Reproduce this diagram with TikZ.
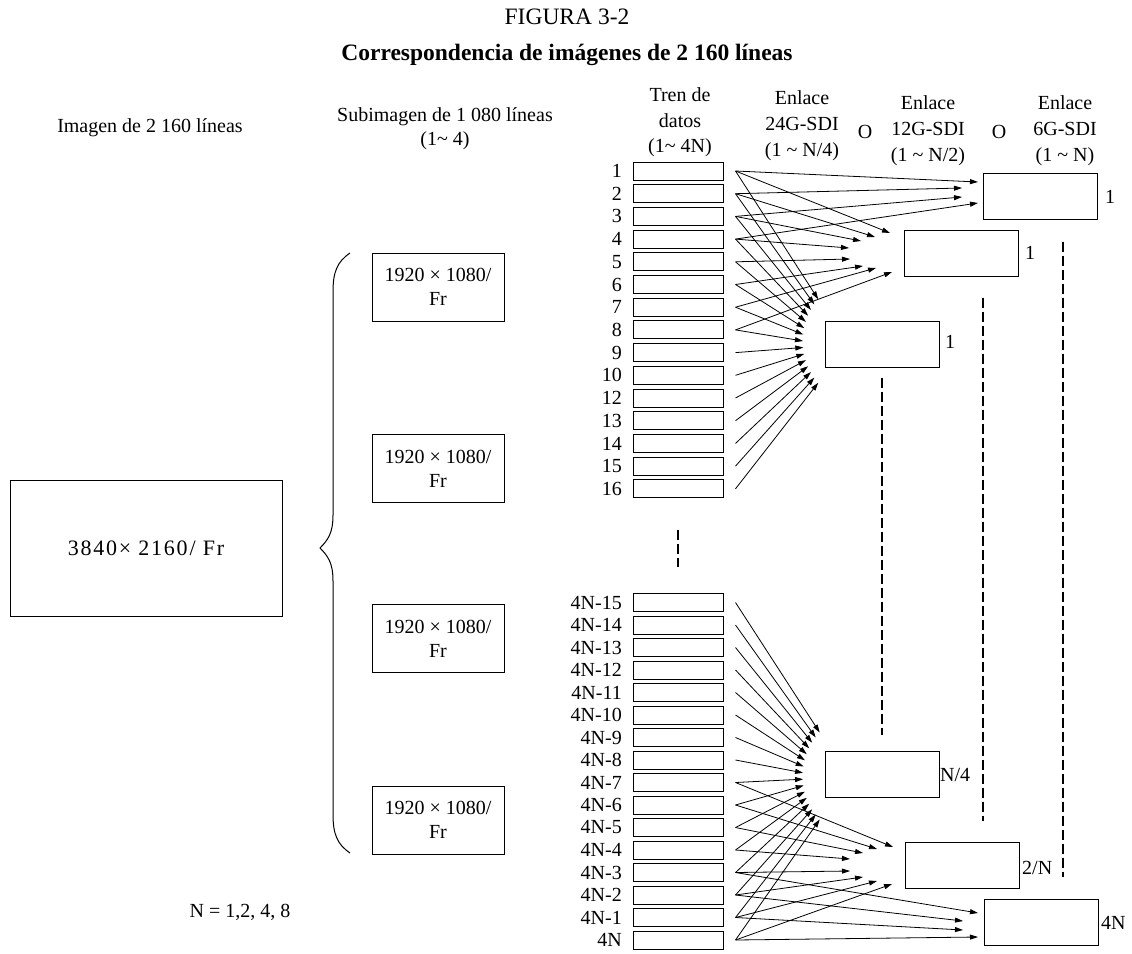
\documentclass[tikz,border=0pt]{standalone}
\usepackage{fontspec}
\setmainfont{Liberation Serif}
\usetikzlibrary{arrows.meta}
\begin{document}
\begin{tikzpicture}[x=1pt,y=-1pt,
  txt/.style={font=\fontsize{20}{25}\selectfont, inner sep=0pt},
  hdr/.style={font=\fontsize{20}{26}\selectfont, inner sep=0pt, align=center},
  streambox/.style={draw, line width=1pt, minimum width=90pt, minimum height=18pt, inner sep=0pt},
  linkbox/.style={draw, line width=1pt, minimum width=114pt, minimum height=46pt, inner sep=0pt},
  subbox/.style={draw, line width=1pt, minimum width=132pt, minimum height=68pt, inner sep=0pt, align=center, font=\fontsize{20}{24}\selectfont},
  bigbox/.style={draw, line width=1pt, minimum width=272pt, minimum height=136pt, inner sep=0pt, font=\fontsize{22}{26}\selectfont\addfontfeature{LetterSpace=8}},
  arr/.style={-{Triangle[length=8pt,width=5pt]}, line width=0.8pt},
  dsh/.style={line width=2pt, dash pattern=on 10pt off 4pt}]
\useasboundingbox (0,0) rectangle (1132,953);

% titles
\node[font=\fontsize{23.5}{28}\selectfont, inner sep=0pt] (fig) at (567,17) {FIGURA 3-2};
\node[font=\fontsize{23.5}{28}\selectfont\bfseries, inner sep=0pt] (tit) at (567,55) {Correspondencia de imágenes de 2 160 líneas};

% column headers
\node[txt] (himg) at (150,128) {Imagen de 2 160 líneas};
\node[hdr, font=\fontsize{20}{24}\selectfont] (hsub) at (445,129) {Subimagen de 1 080 líneas\\(1\textasciitilde\ 4)};
\node[hdr, font=\fontsize{20}{25.5}\selectfont] (htren) at (680,122.5) {Tren de\\datos\\(1\textasciitilde\ 4N)};
\node[hdr] (h24) at (802,125.5) {Enlace\\24G-SDI\\(1 \textasciitilde\ N/4)};
\node[txt] (o1) at (865,132) {O};
\node[hdr] (h12) at (928,131) {Enlace\\12G-SDI\\(1 \textasciitilde\ N/2)};
\node[txt] (o2) at (999,132) {O};
\node[hdr] (h6) at (1065,131) {Enlace\\6G-SDI\\(1 \textasciitilde\ N)};

% left side
\node[bigbox] (big) at (146,548) {3840× 2160/ Fr};
\node[subbox] (s1) at (438,287) {1920 × 1080/\\Fr};
\node[subbox] (s2) at (438,468.5) {1920 × 1080/\\Fr};
\node[subbox] (s3) at (438,638.5) {1920 × 1080/\\Fr};
\node[subbox] (s4) at (438,820) {1920 × 1080/\\Fr};
\draw[line width=1pt] (350,253) .. controls (337,262) and (333,272) .. (333,292) -- (333,515)
  .. controls (333,533) and (328,540) .. (320,548)
  .. controls (328,556) and (333,563) .. (333,581) -- (333,814)
  .. controls (333,834) and (337,844) .. (350,853);
\node[txt] (nval) at (240,912) {N = 1,2, 4, 8};

% data streams, top
\foreach \lab [count=\i] in {1,2,3,4,5,6,7,8,9,10,12,13,14,15,16} {
  \node[streambox] (t\i) at (678,{171+22.7*(\i-1)}) {};
  \node[txt, anchor=east] (tl\i) at (622,{171+22.7*(\i-1)}) {\lab};
}
% data streams, bottom
\foreach \lab [count=\i] in {4N-15,4N-14,4N-13,4N-12,4N-11,4N-10,4N-9,4N-8,4N-7,4N-6,4N-5,4N-4,4N-3,4N-2,4N-1,4N} {
  \node[streambox] (b\i) at (678,{602.5+22.5*(\i-1)}) {};
  \node[txt, anchor=east] (bl\i) at (622,{602.5+22.5*(\i-1)}) {\lab};
}

% link boxes
\node[linkbox] (g6a) at (1040,196) {};
\node[txt, anchor=west] (g6al) at (1105,197) {1};
\node[linkbox] (g12a) at (961,253) {};
\node[txt, anchor=west] (g12al) at (1025,253) {1};
\node[linkbox] (g24a) at (882,344) {};
\node[txt, anchor=west] (g24al) at (945,342) {1};
\node[linkbox] (g24b) at (882,774) {};
\node[txt, anchor=west] (g24bl) at (940,775) {N/4};
\node[linkbox] (g12b) at (962,865.5) {};
\node[txt, anchor=west] (g12bl) at (1022,868) {2/N};
\node[linkbox] (g6b) at (1041,922) {};
\node[txt, anchor=west] (g6bl) at (1101,923) {4N};

% dashed continuation lines (shifts in canvas units: negative y = down)
\draw[dsh] ([yshift=-10pt]g24a.south) -- ([yshift=16pt]g24b.north);
\draw[dsh] ([xshift=22pt,yshift=-21pt]g12a.south) -- ([xshift=21pt,yshift=21pt]g12b.north);
\draw[dsh] ([xshift=23pt,yshift=-22pt]g6a.south) -- ([xshift=22pt,yshift=22pt]g6b.north);
\draw[dsh] ([yshift=-32pt]t15.south) -- ([yshift=26pt]b1.north);

% top arrows: 24G
\foreach \i in {1,...,15} {
  \coordinate (p\i) at ({868+65*cos(140+80*(\i-1)/14)},{341-65*sin(140+80*(\i-1)/14)});
  \draw[arr] ([xshift=12pt]t\i.east) -- (p\i);
}
% top arrows: 12G
\foreach \px/\py [count=\i] in {890/233,875/237,861/241,849/248,850/259,863/266,876/268,892/272} {
  \coordinate (q\i) at (\px,\py);
  \draw[arr] ([xshift=12pt]t\i.east) -- (q\i);
}
% top arrows: 6G
\foreach \px/\py [count=\i] in {978/182,962/188,962/197,978/203} {
  \coordinate (r\i) at (\px,\py);
  \draw[arr] ([xshift=12pt]t\i.east) -- (r\i);
}

% bottom arrows: 24G
\foreach \i in {1,...,16} {
  \coordinate (u\i) at ({868+65*cos(138+84*(\i-1)/15)},{776-65*sin(138+84*(\i-1)/15)});
  \draw[arr] ([xshift=12pt]b\i.east) -- (u\i);
}
% bottom arrows: 12G
\foreach \px/\py [count=\i from 9] in {893/847,877/849,863/853,850/859,850/871,863/877,877/881,892/884} {
  \coordinate (v\i) at (\px,\py);
  \draw[arr] ([xshift=12pt]b\i.east) -- (v\i);
}
% bottom arrows: 6G
\foreach \px/\py [count=\i from 13] in {978/913,963/921,963/930,978/937} {
  \coordinate (w\i) at (\px,\py);
  \draw[arr] ([xshift=12pt]b\i.east) -- (w\i);
}
\end{tikzpicture}
\end{document}
